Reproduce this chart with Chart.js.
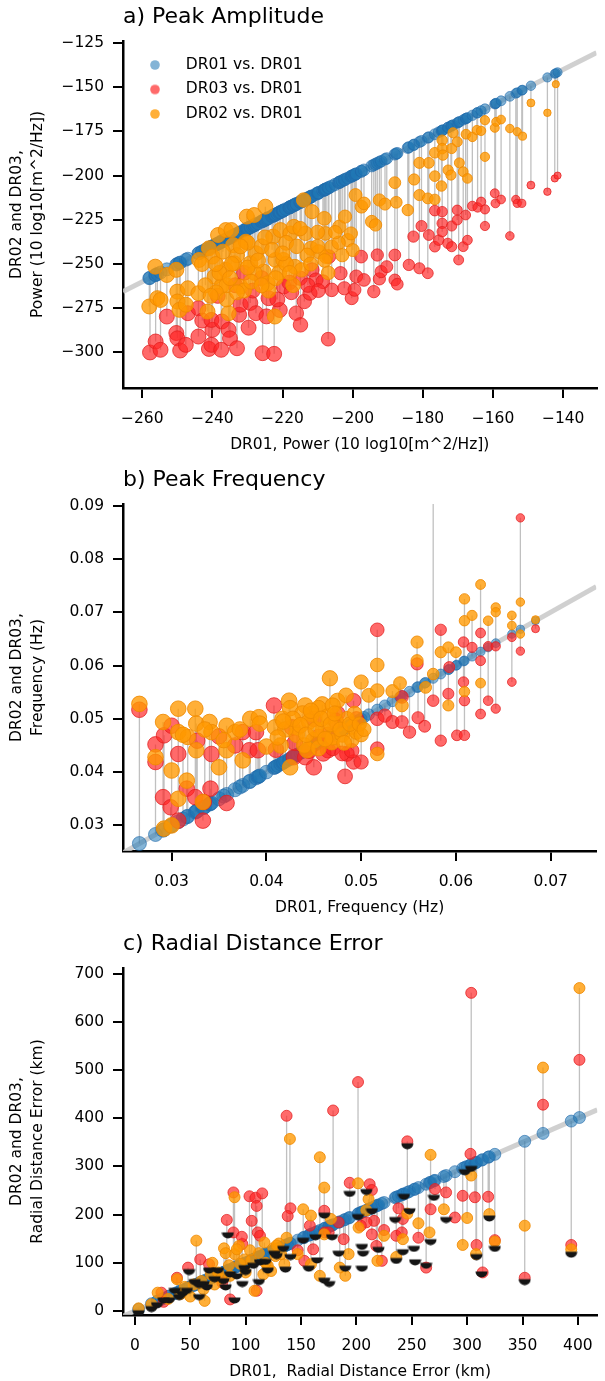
<!DOCTYPE html>
<html>
<head>
<meta charset="utf-8">
<script src="https://cdn.jsdelivr.net/npm/chart.js@4.4.1/dist/chart.umd.min.js"></script>
<style>
  html, body { margin: 0; padding: 0; background: #fff; }
  #wrap { position: relative; width: 605px; height: 1381px; overflow: hidden; }
  canvas { position: absolute; left: 0; }
</style>
</head>
<body>
<div id="wrap">
  <canvas id="chartA" width="605" height="462" style="top:-4px"></canvas>
  <canvas id="chartB" width="605" height="462" style="top:459px"></canvas>
  <canvas id="chartC" width="605" height="462" style="top:923px"></canvas>
</div>
<script>
// ---- a) Peak Amplitude : [DR01, DR0x] pairs ----
const ampTicksX = [-260, -240, -220, -200, -180, -160, -140];
const ampTicksY = [-300, -275, -250, -225, -200, -175, -150, -125];
const ampDR03 = [
  [-257.8,-300],[-256.2,-293.8],[-254.8,-298.5],[-253,-279.7],[-250.3,-289],[-250,-292],[-249.2,-298.9],
  [-247.6,-295.7],[-247,-277.8],[-244,-291],[-244,-275],[-242.9,-282],[-241,-298],[-240.3,-295.7],
  [-240,-287.2],[-240.3,-281.6],[-237.5,-298.5],[-237.3,-282.5],[-235.4,-287.2],[-235,-292],[-233,-297.6],
  [-232.4,-278.7],[-232,-273],[-229.7,-286],[-229.2,-272],[-227.6,-277.8],[-225.7,-300.4],[-224.6,-279.6],
  [-224,-269.3],[-222.4,-300.8],[-220.8,-276],[-219.7,-262.7],[-218.1,-260.5],[-216.1,-277.8],[-214.9,-284.4],
  [-213.8,-271.2],[-212.2,-266.5],[-211.6,-253.3],[-210.5,-259],[-208.5,-260],[-207,-292.5],[-206.8,-245.8],
  [-206,-264.6],[-203.5,-255.2],[-202.4,-263.7],[-200.3,-269.3],[-199.5,-264.6],[-199,-257],[-197.6,-245.8],
  [-196.8,-259],[-194,-265.6],[-193,-244.9],[-192.4,-258.4],[-191.9,-254.3],[-190.3,-251.5],[-188,-244.9],
  [-188,-259],[-187.3,-261.4],[-184,-250.5],[-182.7,-234.5],[-181,-252.4],[-180.4,-228.5],[-178.6,-255.2],
  [-178.3,-233.6],[-176.6,-240.2],[-176.6,-219.8],[-175.5,-236.5],[-174.5,-220.4],[-174.5,-227],[-174.5,-231.7],
  [-172.9,-238.3],[-171.8,-228.5],[-171.8,-240.2],[-170.2,-219.5],[-170.2,-225.1],[-169.8,-247.7],[-168.5,-240.2],
  [-167.8,-222.3],[-167.3,-236.5],[-165.9,-217.2],[-164.4,-218],[-163.4,-214.8],[-162.3,-219.1],[-162.3,-228.5],
  [-159.5,-210],[-159.3,-215.7],[-157.7,-213.5],[-155.2,-234.1],[-153.5,-213.5],[-153.1,-215.7],[-151.8,-215.7],
  [-149.2,-205.4],[-144.5,-209.1],[-142.4,-201.6],[-141.6,-200],
  [-238.5,-268],[-233.5,-262],[-228.5,-265],[-226,-258],[-221.5,-270],[-217.5,-266],[-215,-258],[-212.8,-262],
  [-209.8,-265],[-231,-255]
];
const ampDR02 = [
  [-258,-274],[-256.3,-251.5],[-255.7,-269.3],[-254.8,-270.3],[-253,-256.2],[-250.3,-253.3],[-250,-265.6],
  [-250,-271.2],[-249.4,-275.9],[-247.6,-273],[-247,-263.7],[-244,-266.5],[-243.8,-247.7],[-241.4,-276.9],
  [-241,-241.1],[-240,-245.8],[-239.4,-257.1],[-238.4,-233.6],[-237.5,-262.7],[-236.2,-230.8],[-236.2,-253.3],
  [-235.4,-277.8],[-234.6,-230.8],[-234.1,-239.3],[-233.8,-249.6],[-232,-262.7],[-230.5,-237.4],[-230.2,-223.2],
  [-229.2,-249.6],[-228.1,-222.3],[-227.6,-243.9],[-225.4,-254.3],[-224.9,-217.6],[-224.3,-260.9],[-222.7,-234.5],
  [-222.2,-279.7],[-222,-247.7],[-220.6,-230.8],[-219.8,-247.7],[-217.8,-232.7],[-216.8,-228.9],[-216.5,-251.5],
  [-214.6,-253.3],[-214,-213.8],[-213.5,-232.7],[-211.9,-241.1],[-211.6,-220.4],[-209.7,-243],[-208.1,-224.2],
  [-207.8,-232.7],[-207.6,-245.8],[-206,-240.2],[-203.8,-228.9],[-202.2,-223.2],[-201.4,-236.5],[-200.5,-232.7],
  [-200,-242.1],[-199.2,-211],[-197.5,-217.6],[-196.8,-215.7],[-194.6,-226],[-193.5,-227.9],[-192.4,-213.8],
  [-190.8,-216.1],[-188,-204],[-187.6,-215.1],[-184.3,-219.5],[-182.5,-202.2],[-181,-192.8],[-181,-211],
  [-178.6,-212.9],[-178.3,-192.8],[-176.6,-213.5],[-176.6,-187.1],[-176.6,-200.3],[-174.7,-205.9],[-174.5,-180],
  [-174.5,-184.7],[-174.3,-188.4],[-172.8,-196.9],[-172,-199.7],[-171.8,-184.7],[-171.4,-175.8],[-170.2,-180.9],
  [-169.6,-192.8],[-168.5,-197.8],[-167.7,-176.6],[-167.3,-201.6],[-165.9,-178.1],[-164.6,-174.3],[-163.4,-174.7],
  [-162.3,-189.4],[-162.3,-168.7],[-159.5,-173],[-159.1,-169.6],[-157.7,-168.3],[-155.2,-173.4],[-153.1,-175.2],
  [-151.6,-177.7],[-149.2,-158.9],[-144.5,-164.5],[-142.1,-148.3],
  [-238,-255],[-236,-262],[-233,-245],[-231,-265],[-228,-255],[-226,-240],[-224,-265],[-221,-255],[-219,-238],
  [-217,-262],[-213,-245],[-210,-232],[-207,-255],[-204,-238],[-239,-266],[-234.5,-250],[-230,-238],[-219,-250],
  [-243,-250],[-242,-262],[-240.5,-268],[-239,-250],[-237,-243],[-236,-270],[-235,-258],[-233,-266],[-232,-240],
  [-230,-252],[-229,-260],[-227,-248],[-226,-262],[-225,-235],[-223,-242],[-222,-258],[-220,-244],[-218,-255],
  [-216,-240],[-215,-230],[-212,-250],[-210,-240],[-208,-248],[-205,-232],[-203,-245]
];

// ---- b) Peak Frequency ----
const freqTicksX = [0.03, 0.04, 0.05, 0.06, 0.07];
const freqTicksY = [0.03, 0.04, 0.05, 0.06, 0.07, 0.08, 0.09];
const freqDR03 = [
  [0.0266,0.0517],[0.0283,0.0452],[0.0283,0.0419],[0.0291,0.0353],[0.0292,0.0469],[0.0299,0.0334],[0.0300,0.0487],
  [0.0307,0.0434],[0.0307,0.0309],[0.0316,0.0369],[0.0325,0.0353],[0.0327,0.0459],[0.0333,0.0309],[0.0334,0.0344],
  [0.0341,0.0369],[0.0342,0.0434],[0.0350,0.0467],[0.0358,0.0342],[0.0367,0.0450],[0.0375,0.0475],[0.0382,0.0441],
  [0.0389,0.0475],[0.0391,0.0441],[0.0408,0.0525],[0.0410,0.0442],[0.0427,0.0484],[0.0429,0.0428],[0.0441,0.0428],
  [0.0450,0.0409],[0.0455,0.0466],[0.0465,0.0441],[0.0473,0.0497],[0.0483,0.0392],[0.0485,0.0434],[0.0492,0.0419],
  [0.0492,0.0534],[0.0500,0.0419],[0.0517,0.0667],[0.0517,0.0444],[0.0517,0.0500],[0.0525,0.0506],[0.0533,0.0494],
  [0.0543,0.0541],[0.0543,0.0494],[0.0551,0.0475],[0.0559,0.0603],[0.0560,0.0502],[0.0567,0.0486],[0.0576,0.0534],
  [0.0576,0.0962],[0.0584,0.0459],[0.0584,0.0667],[0.0592,0.0547],[0.0593,0.0597],[0.0601,0.0469],[0.0609,0.0469],
  [0.0608,0.0644],[0.0608,0.0569],[0.0609,0.0534],[0.0617,0.0634],[0.0626,0.0509],[0.0626,0.0609],[0.0626,0.0661],
  [0.0634,0.0534],[0.0634,0.0636],[0.0642,0.0519],[0.0642,0.0636],[0.0659,0.0569],[0.0659,0.0653],[0.0668,0.0877],
  [0.0668,0.0627],[0.0684,0.0669],
  [0.0430,0.0455],[0.0445,0.0440],[0.0460,0.0435],[0.0470,0.0445],[0.0480,0.0435],[0.0450,0.0500],[0.0465,0.0470],
  [0.0490,0.0440],[0.0495,0.0500],[0.0475,0.0510]
];
const freqDR02 = [
  [0.0266,0.0528],[0.0283,0.0428],[0.0291,0.0494],[0.0292,0.0294],[0.0300,0.0403],[0.0300,0.0300],[0.0307,0.0475],
  [0.0307,0.0519],[0.0307,0.0350],[0.0316,0.0384],[0.0317,0.0466],[0.0325,0.0519],[0.0326,0.0491],[0.0326,0.0441],
  [0.0333,0.0344],[0.0340,0.0494],[0.0342,0.0475],[0.0350,0.0409],[0.0358,0.0487],[0.0358,0.0441],[0.0367,0.0475],
  [0.0375,0.0422],[0.0383,0.0500],[0.0392,0.0503],[0.0393,0.0491],[0.0400,0.0448],[0.0409,0.0484],[0.0417,0.0500],
  [0.0424,0.0534],[0.0425,0.0409],[0.0433,0.0484],[0.0441,0.0525],[0.0443,0.0441],[0.0448,0.0509],[0.0459,0.0527],
  [0.0467,0.0576],[0.0469,0.0456],[0.0475,0.0534],[0.0484,0.0544],[0.0491,0.0484],[0.0500,0.0569],[0.0508,0.0544],
  [0.0517,0.0601],[0.0517,0.0553],[0.0517,0.0434],[0.0533,0.0552],[0.0541,0.0567],[0.0543,0.0525],[0.0559,0.0644],
  [0.0559,0.0609],[0.0568,0.0559],[0.0576,0.0584],[0.0584,0.0625],[0.0592,0.0634],[0.0592,0.0525],[0.0600,0.0625],
  [0.0609,0.0725],[0.0609,0.0684],[0.0609,0.0551],[0.0617,0.0694],[0.0626,0.0752],[0.0626,0.0567],[0.0634,0.0684],
  [0.0642,0.0709],[0.0642,0.0700],[0.0659,0.0694],[0.0659,0.0675],[0.0668,0.0719],[0.0668,0.0659],[0.0684,0.0686],
  [0.0425,0.0520],[0.0432,0.0470],[0.0438,0.0510],[0.0445,0.0495],[0.0450,0.0460],[0.0455,0.0520],[0.0460,0.0480],
  [0.0465,0.0505],[0.0470,0.0465],[0.0475,0.0490],[0.0480,0.0470],[0.0485,0.0500],[0.0490,0.0460],[0.0495,0.0475],
  [0.0440,0.0450],[0.0470,0.0525],[0.0415,0.0450],[0.0420,0.0480],[0.0455,0.0445],[0.0500,0.0470],
  [0.0428,0.0500],[0.0436,0.0488],[0.0442,0.0470],[0.0447,0.0515],[0.0452,0.0480],[0.0458,0.0500],[0.0462,0.0462],
  [0.0468,0.0490],[0.0472,0.0510],[0.0478,0.0480],[0.0482,0.0455],[0.0488,0.0490],[0.0493,0.0510],[0.0498,0.0490],
  [0.0503,0.0480],[0.0412,0.0465],[0.0418,0.0495],[0.0312,0.0470],[0.0335,0.0480],[0.0355,0.0460],[0.0372,0.0480]
];

// ---- c) Radial Distance Error ----
const distTicksX = [0, 50, 100, 150, 200, 250, 300, 350, 400];
const distTicksY = [0, 100, 200, 300, 400, 500, 600, 700];
const distDR03 = [
  [137,405],[140.5,213],[138,197],[179,416],[201.5,475],[246,352],[303.7,660],[303,326],[368.5,428],[401.4,521],
  [394,137],[352,69],[89,246],[89,163],[83,189],[103.5,238],[105.5,187],[109,235],[110,218],[115,244],[111,163],
  [113,156],[110,42],[86,24],[59,107],[38,69],[48,90],[238,213],[242,191],[236,156],[241,163],[256,152],[271,253],
  [267,211],[281,246],[296,239],[307,236],[308.5,137],[319,237],[325,147],[194,266],[212,263],[214,251],[216,187],
  [209,184],[204,177],[214,159],[218,135],[225,168],[171,208],[171.5,163],[161,128],[175,163],[184,184],[188.5,149],
  [153,104],[158,177],[147,126],[97,139],[96.6,154],[67,97],[79,59],[26,19],[24,38],[314,80],[263,90],[223,104],[289,194]
];
const distDR02 = [
  [140,357],[167,319],[171,256],[201.5,265],[267,324],[368.5,505],[401.4,670],[352,177],[303.7,281],[300,193],
  [296,137],[394,128],[90,236],[55.5,146],[63,21],[38,66],[80.5,130],[90,118],[94,135],[99,107],[108,42],[116,76],
  [117,142],[127,114],[135,97],[137,152],[152,211],[159,198],[167,73],[171,159],[177,191],[185,90],[190,73],[193,118],
  [202,173],[209,209],[211,232],[219,104],[225,156],[236,112],[242,149],[246,202],[256,182],[266,163],[279,211],
  [308,118],[320,201],[325,144],[68.6,76],[41,35],[20.6,38],[3.4,5.5],[15,14],[53,55],[72,55],[86,73],[123,83],
  [120,94],[147,118],[159,97],[45,50],[60,62],[75,80],[85,95],[95,98],[105,105],[112,120],[125,130],[130,140],
  [62,45],[78,68],[100,80],[118,100],[50,30],[30,25],[70,100],[82,120],[92,128],[104,126],[128,136],[132,118]
];
const distDR02Low = [
  [246,348],[352,66],[394,123],[313,82],[308.5,118],[325,135],[320,198],[298,294],[303.7,301],[281,195],[270,241],
  [267,149],[263,100],[253,107],[252,135],[242,128],[243,243],[236,110],[235,195],[248,213],[220,133],[214,213],
  [209,253],[205,94],[206,125],[205,139],[201.5,201],[194,249],[190,94],[184,125],[178,159],[175.5,62],[171,69],
  [171,204],[164.5,111],[163,159],[157,94],[152,152],[136,92],[140.5,118],[134,135],[126,125],[120,90],[113,107],
  [112,66],[100,87],[97,62],[90,28],[84,163],[82,55],[75,90],[67,90],[62,62],[58,35],[49,87],[54,66],[47,48],[43,42],
  [36,48],[31,28],[26,28],[15,10],[3.4,1.4],[58,60],[72,72],[86,82],[99,95],[107,100],[118,108],[128,120],[65,55],
  [92,78],[80,68],[40,35],[20,18]
];

const BLUE = 'rgba(31,119,180,0.55)';
const BLUE_EDGE = 'rgba(31,105,170,0.6)';
const RED = 'rgba(255,35,35,0.68)';
const RED_EDGE = 'rgba(225,30,30,0.75)';
const ORANGE = 'rgba(255,152,0,0.78)';
const ORANGE_EDGE = 'rgba(238,138,0,0.85)';
const STEM = 'rgba(150,150,150,0.6)';
const DIAG = 'rgba(200,200,200,0.85)';

Chart.defaults.font.family = "'DejaVu Sans', sans-serif";
Chart.defaults.color = '#000';

const clamp = (v) => Math.max(0, Math.min(1, v));

function dot(color, r) {
  const c = document.createElement('canvas');
  c.width = c.height = Math.ceil(r * 2 + 2);
  const g = c.getContext('2d');
  g.fillStyle = color;
  g.beginPath();
  g.arc(c.width / 2, c.height / 2, r, 0, Math.PI * 2);
  g.fill();
  return c;
}

function halfDot() {
  const c = document.createElement('canvas');
  c.width = c.height = 13;
  const g = c.getContext('2d');
  g.fillStyle = '#151515';
  g.beginPath();
  g.arc(6.5, 6.5, 6, 0, Math.PI);
  g.closePath();
  g.fill();
  return c;
}

function axis(min, max, ticks, fmt, title, isY) {
  return {
    type: 'linear', min, max,
    afterBuildTicks: (s) => { s.ticks = ticks.map(v => ({ value: v })); },
    afterFit: (s) => { if (isY) s.width = 123; else s.height = 70; },
    grid: { drawOnChartArea: false, drawTicks: true, tickLength: 10, color: '#000', lineWidth: 2 },
    border: { display: true, color: '#000', width: 2.5 },
    ticks: { color: '#000', font: { size: 15.5 }, padding: isY ? 9 : 12, callback: fmt },
    title: {
      display: true, text: title, color: '#000',
      font: { size: 15.5, lineHeight: 1.35 },
      padding: isY ? { top: 7, bottom: 0 } : { top: 0, bottom: 3 }
    }
  };
}

function makePanel(id, p) {
  const all = p.red.concat(p.orange, p.low || []);
  const blueX = [...new Set(all.map(d => d[0]))].sort((a, b) => a - b);
  const stems = [];
  p.red.concat(p.orange).forEach(([x, y]) => { stems.push({ x, y: x }, { x, y }, { x, y: null }); });
  const toXY = (arr) => arr.map(([x, y]) => ({ x, y }));
  const rad = (ctx) => ctx.raw ? p.size(ctx.raw.x) : 5;

  const datasets = [
    { label: 'DR01 vs. DR01', data: blueX.map(x => ({ x, y: x })), backgroundColor: BLUE, borderColor: BLUE_EDGE,
      borderWidth: 1, pointRadius: (ctx) => ctx.raw ? p.blueSize(ctx.raw.x) : 5, order: 3 },
    { label: 'DR03 vs. DR01', data: toXY(p.red), backgroundColor: RED, borderColor: RED_EDGE,
      borderWidth: 1, pointRadius: rad, order: 2 },
    { label: 'DR02 vs. DR01', data: toXY(p.orange), backgroundColor: ORANGE, borderColor: ORANGE_EDGE,
      borderWidth: 1, pointRadius: rad, order: 1 },
    { label: '', type: 'line', data: stems, borderColor: STEM, borderWidth: 1.3, pointRadius: 0,
      spanGaps: false, order: 4 },
    { label: '', type: 'line', data: [{ x: p.x[0], y: p.x[0] }, { x: p.x[1], y: p.x[1] }],
      borderColor: DIAG, borderWidth: 5, pointRadius: 0, order: 5 }
  ];
  if (p.low) {
    datasets.push({ label: '', data: toXY(p.low), pointStyle: halfDot(), pointRadius: 5, order: 0 });
  }

  return new Chart(document.getElementById(id), {
    type: 'scatter',
    data: { datasets },
    options: {
      responsive: false,
      animation: false,
      events: [],
      layout: { padding: 0 },
      plugins: {
        tooltip: { enabled: false },
        title: {
          display: true, text: p.title, align: 'start', fullSize: false, color: '#000',
          font: { size: 22, weight: 'normal', lineHeight: 1.2 },
          padding: { top: 8, bottom: 10.6 }
        },
        legend: {
          display: !!p.legend,
          position: 'chartArea',
          align: 'start',
          // blank title only pushes the rows down into the plot area
          title: { display: true, text: ' ', font: { size: 6 }, padding: { top: 45, bottom: 0 } },
          labels: {
            color: '#111',
            font: { size: 15.5 },
            padding: 9,
            usePointStyle: true,
            pointStyleWidth: 46,
            generateLabels: (chart) => chart.data.datasets.slice(0, 3).map((ds, i) => ({
              text: ds.label, datasetIndex: i, hidden: false, lineWidth: 0,
              fillStyle: ds.backgroundColor, strokeStyle: ds.backgroundColor,
              pointStyle: dot(ds.backgroundColor, 4.8)
            }))
          }
        }
      },
      scales: {
        x: axis(p.x[0], p.x[1], p.ticksX, p.fmt, p.xTitle, false),
        y: axis(p.y[0], p.y[1], p.ticksY, p.fmt, p.yTitle, true)
      }
    }
  });
}

const minusFmt = (v) => String(v).replace('-', '\u2212');

makePanel('chartA', {
  title: 'a) Peak Amplitude', legend: true,
  red: ampDR03, orange: ampDR02,
  x: [-265.5, -130.5], y: [-320.1, -123.9],
  ticksX: ampTicksX, ticksY: ampTicksY, fmt: minusFmt,
  xTitle: 'DR01, Power (10 log10[m^2/Hz])',
  yTitle: ['DR02 and DR03,', 'Power (10 log10[m^2/Hz])'],
  size: (x) => 3.5 + 4 * clamp((-140 - x) / 80),
  blueSize: (x) => 4.5 + 2 * clamp((-140 - x) / 80)
});

makePanel('chartB', {
  title: 'b) Peak Frequency',
  red: freqDR03, orange: freqDR02,
  x: [0.02487, 0.0748], y: [0.0252, 0.0903],
  ticksX: freqTicksX, ticksY: freqTicksY, fmt: (v) => v.toFixed(2),
  xTitle: 'DR01, Frequency (Hz)',
  yTitle: ['DR02 and DR03,', 'Frequency (Hz)'],
  size: (x) => 4 + 3.8 * clamp((0.068 - x) / 0.022),
  blueSize: (x) => 4 + 3 * clamp((0.068 - x) / 0.03)
});

makePanel('chartC', {
  title: 'c) Radial Distance Error',
  red: distDR03, orange: distDR02, low: distDR02Low,
  x: [-10.7, 417.5], y: [-8.3, 711.6],
  ticksX: distTicksX, ticksY: distTicksY, fmt: (v) => String(v),
  xTitle: 'DR01,  Radial Distance Error (km)',
  yTitle: ['DR02 and DR03,', 'Radial Distance Error (km)'],
  size: () => 5.5,
  blueSize: () => 6
});
</script>
</body>
</html>
